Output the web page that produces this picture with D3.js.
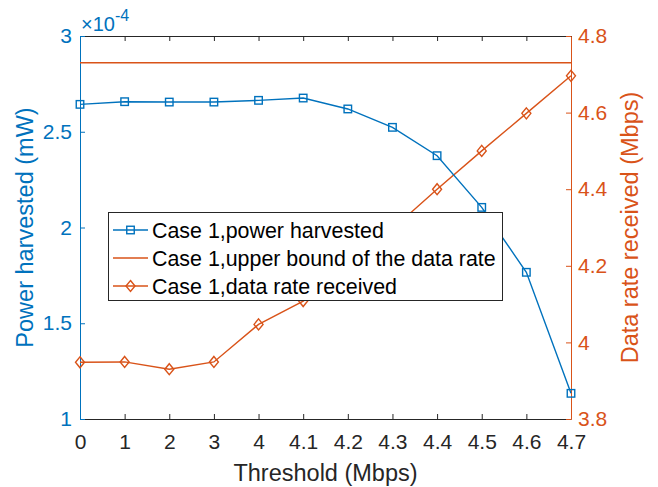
<!DOCTYPE html>
<html>
<head>
<meta charset="utf-8">
<script src="https://cdn.jsdelivr.net/npm/d3@7"></script>
<style>
  html, body { margin: 0; padding: 0; background: #fff; }
  svg { display: block; }
  text { font-family: "Liberation Sans", Arial, Helvetica, sans-serif; }
</style>
</head>
<body>
<script>
// ---- data ----
const categories = ["0", "1", "2", "3", "4", "4.1", "4.2", "4.3", "4.4", "4.5", "4.6", "4.7"];
const powerHarvested = [2.643, 2.657, 2.655, 2.655, 2.664, 2.676, 2.619, 2.523, 2.375, 2.105, 1.766, 1.134]; // x 1e-4 mW
const upperBound = [4.73, 4.73, 4.73, 4.73, 4.73, 4.73, 4.73, 4.73, 4.73, 4.73, 4.73, 4.73];
const dataReceived = [3.948, 3.949, 3.930, 3.949, 4.047, 4.108, 4.20, 4.296, 4.40, 4.50, 4.598, 4.696];
const leftTicks = [1, 1.5, 2, 2.5, 3];
const rightTicks = [3.8, 4, 4.2, 4.4, 4.6, 4.8];
const seriesNames = ["Case 1,power harvested", "Case 1,upper bound of the data rate", "Case 1,data rate received"];

const W = 658, H = 487;
const BLUE = "#0072BD", ORANGE = "#D95319", AX = "#262626";
const m = { left: 80, right: 571, top: 36, bottom: 419 };
const TICKFONT = 21, LABELFONT = 23.5, LEGFONT = 21.4;

const svg = d3.select("body").append("svg").attr("width", W).attr("height", H);

const x = d3.scalePoint().domain(categories).range([m.left, m.right]).padding(0);
const yL = d3.scaleLinear().domain([1, 3]).range([m.bottom, m.top]);
const yR = d3.scaleLinear().domain([3.8, 4.8]).range([m.bottom, m.top]);

const TICK = 5;

// bottom axis
const gB = svg.append("g").attr("transform", `translate(0,${m.bottom})`)
  .call(d3.axisBottom(x).tickSizeInner(-TICK).tickSizeOuter(0).tickPadding(15));
gB.select(".domain").attr("stroke", AX);
gB.selectAll(".tick line").attr("stroke", AX);
gB.selectAll(".tick text").attr("fill", AX).attr("font-size", TICKFONT);

// top axis
const gT = svg.append("g").attr("transform", `translate(0,${m.top})`)
  .call(d3.axisTop(x).tickSizeInner(-TICK).tickSizeOuter(0).tickFormat(""));
gT.select(".domain").attr("stroke", AX);
gT.selectAll(".tick line").attr("stroke", AX);

// left axis
const gL = svg.append("g").attr("transform", `translate(${m.left},0)`)
  .call(d3.axisLeft(yL).tickValues(leftTicks).tickFormat(d3.format("~g")).tickSizeInner(-TICK).tickSizeOuter(0).tickPadding(8));
gL.select(".domain").attr("stroke", BLUE);
gL.selectAll(".tick line").attr("stroke", BLUE);
gL.selectAll(".tick text").attr("fill", BLUE).attr("font-size", TICKFONT);

// right axis
const gR = svg.append("g").attr("transform", `translate(${m.right},0)`)
  .call(d3.axisRight(yR).tickValues(rightTicks).tickFormat(d3.format("~g")).tickSizeInner(-TICK).tickSizeOuter(0).tickPadding(7));
gR.select(".domain").attr("stroke", ORANGE);
gR.selectAll(".tick line").attr("stroke", ORANGE);
gR.selectAll(".tick text").attr("fill", ORANGE).attr("font-size", TICKFONT)
  .text(d => d3.format(".1f")(d).replace(/\.0$/, ""));

// exponent label
const ex = svg.append("text").attr("x", 81).attr("y", 31).attr("fill", BLUE).attr("font-size", 20);
ex.append("tspan").text("\u00d710");
ex.append("tspan").attr("dy", -10).attr("font-size", 16).text("-4");

// axis titles
svg.append("text").attr("x", (m.left + m.right) / 2).attr("y", 481)
  .attr("text-anchor", "middle").attr("fill", AX).attr("font-size", LABELFONT).text("Threshold (Mbps)");
svg.append("text").attr("transform", `translate(33,${(m.top + m.bottom) / 2}) rotate(-90)`)
  .attr("text-anchor", "middle").attr("fill", BLUE).attr("font-size", LABELFONT).text("Power harvested (mW)");
svg.append("text").attr("transform", `translate(638,${(m.top + m.bottom) / 2}) rotate(-90)`)
  .attr("text-anchor", "middle").attr("fill", ORANGE).attr("font-size", LABELFONT).text("Data rate received (Mbps)");

// lines
const lineL = d3.line().x((d, i) => x(categories[i])).y(d => yL(d));
const lineR = d3.line().x((d, i) => x(categories[i])).y(d => yR(d));

const plot = svg.append("g");
plot.append("path").datum(upperBound).attr("d", lineR).attr("fill", "none").attr("stroke", ORANGE).attr("stroke-width", 1.4);
plot.append("path").datum(dataReceived).attr("d", lineR).attr("fill", "none").attr("stroke", ORANGE).attr("stroke-width", 1.4);
plot.append("path").datum(powerHarvested).attr("d", lineL).attr("fill", "none").attr("stroke", BLUE).attr("stroke-width", 1.4);

const sq = 7.5;
plot.selectAll("rect.sq").data(powerHarvested).join("rect").attr("class", "sq")
  .attr("x", (d, i) => x(categories[i]) - sq / 2).attr("y", d => yL(d) - sq / 2)
  .attr("width", sq).attr("height", sq).attr("fill", "none").attr("stroke", BLUE).attr("stroke-width", 1.4);

const diamond = (cx, cy) => `M${cx},${cy - 5.5}L${cx + 4.5},${cy}L${cx},${cy + 5.5}L${cx - 4.5},${cy}Z`;
plot.selectAll("path.dm").data(dataReceived).join("path").attr("class", "dm")
  .attr("d", (d, i) => diamond(x(categories[i]), yR(d)))
  .attr("fill", "none").attr("stroke", ORANGE).attr("stroke-width", 1.4);

// legend
const lg = svg.append("g");
lg.append("rect").attr("x", 108.5).attr("y", 212.5).attr("width", 394).attr("height", 88)
  .attr("fill", "#fff").attr("stroke", AX).attr("stroke-width", 1);
const rowsY = [230, 258, 286];
const colors = [BLUE, ORANGE, ORANGE];
seriesNames.forEach((name, i) => {
  const cy = rowsY[i];
  lg.append("line").attr("x1", 113).attr("x2", 148).attr("y1", cy).attr("y2", cy)
    .attr("stroke", colors[i]).attr("stroke-width", 1.4);
  if (i === 0) lg.append("rect").attr("x", 130.5 - sq / 2).attr("y", cy - sq / 2).attr("width", sq).attr("height", sq)
    .attr("fill", "none").attr("stroke", BLUE).attr("stroke-width", 1.4);
  if (i === 2) lg.append("path").attr("d", diamond(130.5, cy)).attr("fill", "none").attr("stroke", ORANGE).attr("stroke-width", 1.4);
  lg.append("text").attr("x", 152).attr("y", cy + 7.5).attr("fill", "#000").attr("font-size", LEGFONT).text(name);
});
</script>
</body>
</html>
